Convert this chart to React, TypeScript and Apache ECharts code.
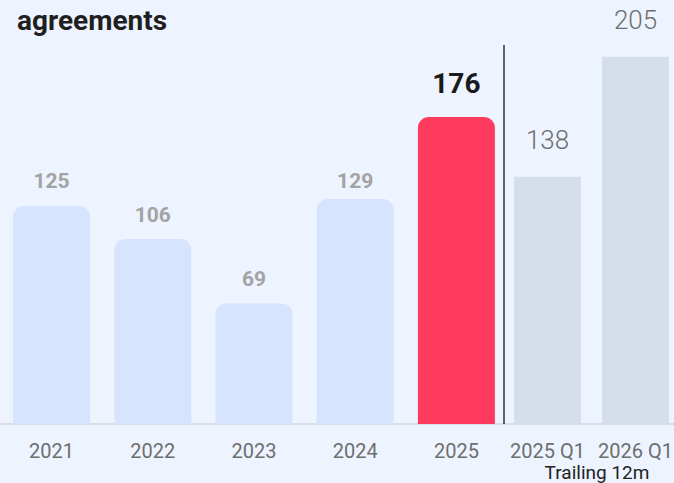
import React, { useEffect, useRef } from "react";
import * as echarts from "echarts";

const yearCategories = ["2021", "2022", "2023", "2024", "2025"];
const yearValues = [125, 106, 69, 129, 176];
const trailingCategories = ["2025 Q1", "2026 Q1"];
const trailingValues = [138, 205];
const titleText = "agreements";
const trailingNote = "Trailing 12m";

const FONT = "Roboto, 'Noto Sans', sans-serif";

export default function App() {
  const ref = useRef<HTMLDivElement>(null);
  useEffect(() => {
    if (!ref.current) return;
    const chart = echarts.init(ref.current, null, { renderer: "svg" });
    const highlightIdx = yearValues.length - 1;
    chart.setOption({
      animation: false,
      backgroundColor: "#EDF3FF",
      textStyle: { fontFamily: FONT },
      title: {
        text: titleText,
        left: 12,
        top: 1,
        textStyle: { fontSize: 28, fontWeight: "bold", color: "#1f1f1f", fontFamily: FONT },
      },
      grid: [
        { left: 1, width: 506, top: 0, bottom: 59, outerBoundsMode: "none", containLabel: false },
        { left: 503.5, width: 176, top: 0, bottom: 59, outerBoundsMode: "none", containLabel: false },
      ],
      xAxis: [
        {
          type: "category",
          gridIndex: 0,
          data: yearCategories,
          axisLine: { lineStyle: { color: "#DADDE2", width: 2 } },
          axisTick: { show: false },
          axisLabel: { color: "#6E6E6E", fontSize: 20, margin: 17, interval: 0, fontFamily: FONT },
        },
        {
          type: "category",
          gridIndex: 1,
          data: trailingCategories,
          axisLine: { lineStyle: { color: "#DADDE2", width: 2 } },
          axisTick: { show: false },
          axisLabel: { color: "#6E6E6E", fontSize: 20, margin: 17, interval: 0, hideOverlap: false, fontFamily: FONT },
        },
      ],
      yAxis: [
        { type: "value", gridIndex: 0, min: 0, max: 243, show: false },
        { type: "value", gridIndex: 1, min: 0, max: 236.6, show: false },
      ],
      series: [
        {
          type: "bar",
          xAxisIndex: 0,
          yAxisIndex: 0,
          barWidth: 77,
          data: yearValues.map((v, i) =>
            i === highlightIdx
              ? {
                  value: v,
                  itemStyle: { color: "#FF3A5F", borderRadius: [11, 11, 0, 0] },
                  label: { color: "#1a1a1a", fontSize: 28, fontWeight: "bold", distance: 19 },
                }
              : i === 3
              ? { value: v, label: { distance: 7 } }
              : v
          ),
          itemStyle: { color: "#D6E4FD", borderRadius: [11, 11, 0, 0] },
          label: {
            show: true,
            position: "top",
            distance: 14,
            color: "#A3A3A3",
            fontSize: 21,
            fontWeight: "bold",
            fontFamily: FONT,
          },
        },
        {
          type: "bar",
          xAxisIndex: 1,
          yAxisIndex: 1,
          barWidth: 67,
          data: trailingValues,
          itemStyle: { color: "#D5DFEA" },
          label: {
            show: true,
            position: "top",
            distance: 24,
            color: "#6E6E6E",
            fontSize: 26,
            fontWeight: 300,
            fontFamily: FONT,
          },
        },
      ],
      graphic: [
        {
          type: "line",
          shape: { x1: 504, y1: 45, x2: 504, y2: 424 },
          style: { stroke: "#333333", lineWidth: 1.5 },
          z: 10,
        },
        {
          type: "text",
          x: 597,
          y: 472,
          style: {
            text: trailingNote,
            fill: "#222222",
            fontSize: 19,
            fontFamily: FONT,
            textAlign: "center",
            textVerticalAlign: "middle",
          },
        },
      ],
    });
    return () => chart.dispose();
  }, []);
  return (
    <div
      ref={ref}
      style={{ position: "fixed", left: 0, top: 0, width: 674, height: 483 }}
    />
  );
}
